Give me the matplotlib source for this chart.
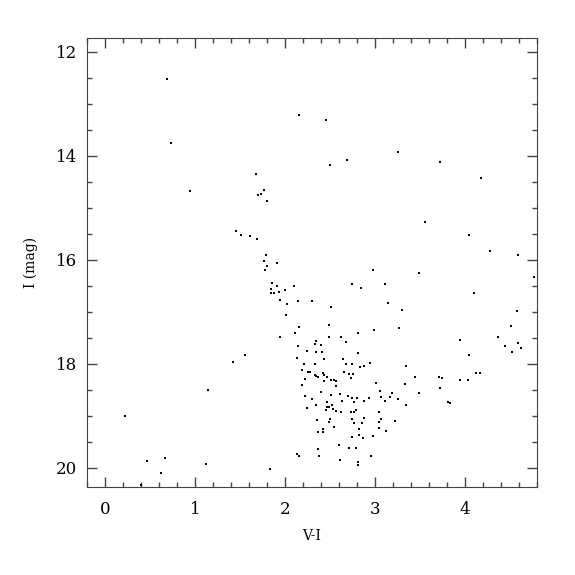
import matplotlib.pyplot as plt
from matplotlib.ticker import MultipleLocator

# colour (V-I) and magnitude (I)
v_i = [
    0.69, 0.73, 0.94, 2.16, 2.46, 1.68, 2.50, 2.69, 3.26, 3.72, 4.18,
    1.46, 1.77, 1.70, 1.73, 1.80, 1.51, 1.61, 1.69, 1.79, 1.77, 1.91,
    1.80, 1.78, 2.98, 1.86, 1.84, 1.91, 2.10, 2.00, 1.84, 1.88, 1.93,
    2.74, 2.84, 3.11, 1.94, 2.02, 2.14, 2.30, 2.51, 2.01, 2.16, 2.49,
    2.11, 1.95, 2.49, 2.62, 2.81, 2.99,
    3.56, 4.04, 4.28, 4.59, 4.77, 3.49, 4.10, 3.15, 3.30, 4.58, 4.51,
    3.27, 4.37,
    1.42, 1.14, 0.22, 0.47, 0.67, 1.12, 0.62, 0.40, 1.83, 2.13, 2.16,
    2.34, 2.33, 2.40, 2.15, 2.68, 1.56, 2.24, 2.34, 2.41, 2.81, 2.13,
    2.43, 2.64, 2.21, 2.33, 2.68, 2.75, 2.83, 2.88, 2.95, 2.19, 2.26,
    2.28, 2.66, 2.71, 2.76, 2.33, 2.34, 2.37, 2.42, 2.43, 2.47, 2.73,
    2.22, 2.43, 2.51, 2.54, 2.57, 2.19, 2.57, 3.01, 2.40, 3.06, 2.22,
    2.30, 2.51, 2.61, 2.70, 2.75, 2.80, 2.93, 3.07, 3.11, 2.63, 2.77,
    2.88, 2.47, 2.34, 2.52, 2.47, 2.49, 2.25, 2.46, 2.53, 2.57, 2.62,
    2.73, 2.77, 2.79, 3.05, 2.36, 2.50, 2.49, 2.74, 2.77, 2.86, 2.88,
    3.07, 3.04, 2.55, 2.42, 2.82, 3.04, 2.37, 2.42, 3.12, 2.82, 2.98,
    2.74, 2.75, 2.87, 2.60, 2.37, 2.71, 2.79, 2.38, 2.61, 2.96, 2.81,
    2.81,
    3.94, 4.44, 4.59, 4.62, 4.52, 4.04, 3.34, 3.33, 3.45, 3.71, 3.75,
    3.95, 4.03, 4.12, 4.17, 3.72, 3.19, 3.17, 3.26, 3.49, 3.35, 3.81,
    3.83, 3.22,
]
i_mag = [
    12.52, 13.75, 14.68, 13.22, 13.31, 14.34, 14.17, 14.08, 13.92, 14.12, 14.42,
    15.45, 14.65, 14.75, 14.74, 14.86, 15.53, 15.54, 15.60, 15.90, 16.03, 16.06,
    16.12, 16.19, 16.19, 16.45, 16.56, 16.50, 16.50, 16.57, 16.63, 16.63, 16.62,
    16.47, 16.54, 16.46, 16.78, 16.84, 16.79, 16.79, 16.91, 17.06, 17.30, 17.26,
    17.40, 17.48, 17.49, 17.48, 17.40, 17.35,
    15.27, 15.52, 15.83, 15.90, 16.32, 16.25, 16.63, 16.83, 16.96, 16.98, 17.28,
    17.31, 17.49,
    17.96, 18.51, 19.00, 19.86, 19.81, 19.93, 20.10, 20.33, 20.03, 19.73, 19.78,
    17.57, 17.61, 17.63, 17.65, 17.58, 17.83, 17.76, 17.78, 17.77, 17.79, 17.88,
    17.91, 17.90, 18.00, 18.01, 18.00, 18.01, 18.06, 18.04, 17.98, 18.12, 18.16,
    18.16, 18.15, 18.19, 18.19, 18.21, 18.24, 18.25, 18.17, 18.21, 18.25, 18.28,
    18.29, 18.33, 18.31, 18.31, 18.33, 18.40, 18.42, 18.37, 18.55, 18.53, 18.62,
    18.67, 18.59, 18.58, 18.62, 18.65, 18.66, 18.65, 18.64, 18.72, 18.72, 18.73,
    18.72, 18.73, 18.79, 18.80, 18.83, 18.83, 18.84, 18.88, 18.87, 18.90, 18.92,
    18.92, 18.92, 18.88, 18.92, 19.08, 19.06, 19.12, 19.07, 19.13, 19.13, 19.05,
    19.06, 19.12, 19.21, 19.25, 19.26, 19.24, 19.31, 19.32, 19.30, 19.36, 19.38,
    19.41, 19.41, 19.42, 19.56, 19.64, 19.62, 19.62, 19.77, 19.85, 19.78, 19.89,
    19.95,
    17.54, 17.66, 17.59, 17.69, 17.77, 17.83, 18.04, 18.38, 18.26, 18.26, 18.28,
    18.32, 18.32, 18.17, 18.17, 18.47, 18.56, 18.63, 18.68, 18.56, 18.80, 18.74,
    18.76, 19.10,
]

plt.rcParams['font.family'] = ['DejaVu Serif']

fig = plt.figure(figsize=(5.75, 5.75), dpi=100)
ax = fig.add_axes([0.1513, 0.153, 0.7826, 0.781])

ax.plot(v_i, i_mag, 's', color='black', markersize=1.6, markeredgewidth=0)

ax.set_xlim(-0.2, 4.8)
ax.set_ylim(20.37, 11.73)

ax.xaxis.set_major_locator(MultipleLocator(1))
ax.xaxis.set_minor_locator(MultipleLocator(0.2))
ax.yaxis.set_major_locator(MultipleLocator(2))
ax.yaxis.set_minor_locator(MultipleLocator(0.5))
ax.tick_params(which='both', direction='in', top=True, right=True,
               color='#444444', labelsize=12)
ax.tick_params(which='major', length=7, width=1)
ax.tick_params(which='minor', length=3.5, width=1)
ax.tick_params(axis='x', which='major', pad=10)
ax.tick_params(axis='y', which='major', pad=7)
for s in ax.spines.values():
    s.set_color('#444444')

ax.set_xlabel('V-I', fontsize=10, labelpad=8)
ax.set_ylabel('I (mag)', fontsize=10, labelpad=13)

fig.savefig('out.png', dpi=100)
